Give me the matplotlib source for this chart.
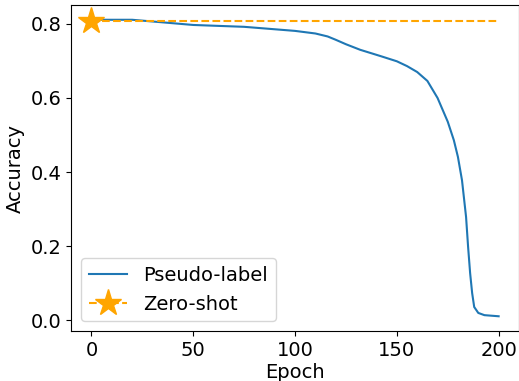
import matplotlib.pyplot as plt

# values
epochs = [0, 10, 20, 33, 50, 75, 100, 110, 116, 120, 125, 132, 142, 150, 155, 160, 165, 170, 175, 178, 180, 182,
          184, 185, 186, 187, 188, 190, 193, 200]
pseudo_acc = [0.811, 0.811, 0.811, 0.805, 0.797, 0.792, 0.781, 0.774, 0.766, 0.757, 0.745, 0.73, 0.713, 0.699,
              0.686, 0.670, 0.646, 0.60, 0.536, 0.486, 0.441, 0.378, 0.279, 0.198, 0.127, 0.073, 0.036, 0.02,
              0.014, 0.011]
zero_shot = 0.808

plt.rcParams['font.size'] = 14
fig, ax = plt.subplots(figsize=(5.19, 3.81), dpi=100)
ax.plot(epochs, pseudo_acc, label='Pseudo-label')
ax.plot([epochs[0], epochs[-1]], [zero_shot, zero_shot], '--', color='orange',
        marker='*', markevery=[0], markersize=20, label='Zero-shot')
ax.set_xlabel('Epoch', labelpad=2)
ax.set_ylabel('Accuracy')
ax.legend(loc='lower left')
fig.subplots_adjust(left=0.137, right=1.0, top=0.987, bottom=0.131)
fig.savefig('out.png')
